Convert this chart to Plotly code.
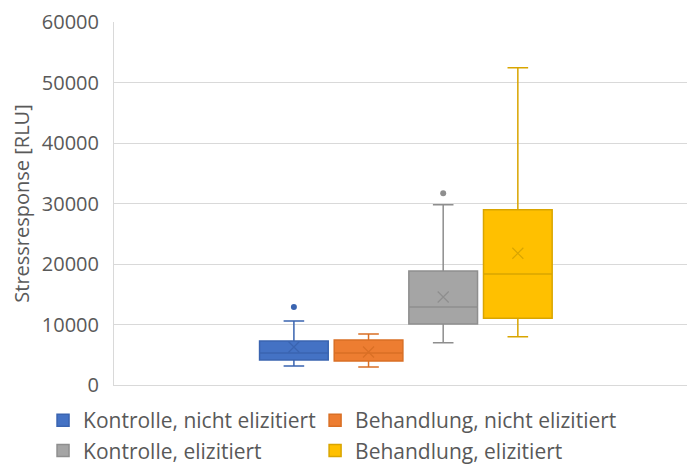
import plotly.graph_objects as go

# ---- data ----
series_names = ["Kontrolle, nicht elizitiert", "Behandlung, nicht elizitiert",
                "Kontrolle, elizitiert", "Behandlung, elizitiert"]
lower_whisker = [3140, 2980, 7000, 7980]
q1_values = [4130, 3970, 10080, 11020]
median_values = [5290, 5290, 12890, 18350]
q3_values = [7270, 7440, 18840, 28980]
upper_whisker = [10580, 8430, 29800, 52450]
mean_values = [6280, 5450, 14550, 21770]
outlier_values = [[12900], [], [31700], []]
y_ticks = [0, 10000, 20000, 30000, 40000, 50000, 60000]

# ---- styles ----
fill_colors = ["#4472C4", "#ED7D31", "#A5A5A5", "#FFC000"]
line_colors = ["#3A64B0", "#D96F25", "#8E8E8E", "#D9A500"]
legend_ids = ["legend", "legend2", "legend", "legend2"]
FONT = "Open Sans, Noto Sans, sans-serif"
TXT = "#595959"
GRID = "#D9D9D9"

fig = go.Figure()
for i, name in enumerate(series_names):
    fig.add_trace(go.Box(
        name=name,
        x=[i],
        q1=[q1_values[i]], median=[median_values[i]], q3=[q3_values[i]],
        lowerfence=[lower_whisker[i]], upperfence=[upper_whisker[i]],
        fillcolor=fill_colors[i],
        line=dict(color=line_colors[i], width=1.5),
        whiskerwidth=0.3,
        width=0.92,
        boxpoints=False,
        showlegend=True,
        legend=legend_ids[i],
    ))
for i, name in enumerate(series_names):
    # mean marker (X)
    fig.add_trace(go.Scatter(
        x=[i], y=[mean_values[i]], mode="markers",
        marker=dict(symbol="x-thin", size=11,
                    line=dict(color=line_colors[i], width=1.2)),
        showlegend=False, hoverinfo="skip",
    ))
    if outlier_values[i]:
        fig.add_trace(go.Scatter(
            x=[i] * len(outlier_values[i]), y=outlier_values[i], mode="markers",
            marker=dict(symbol="circle", size=6, color=line_colors[i]),
            showlegend=False, hoverinfo="skip",
        ))

legend_common = dict(
    orientation="h", xref="container", yref="container",
    xanchor="left", yanchor="top", y=0.142,
    entrywidth=300, entrywidthmode="pixels",
    font=dict(family=FONT, size=21, color=TXT),
    traceorder="normal", bgcolor="rgba(0,0,0,0)",
)
fig.update_layout(
    width=687, height=457,
    margin=dict(l=106, r=1, t=14, b=80),
    paper_bgcolor="white", plot_bgcolor="white",
    font=dict(family=FONT, size=20, color=TXT),
    boxmode="overlay",
    legend=dict(x=0.051, **legend_common),
    legend2=dict(x=0.447, **legend_common),
)
fig.update_xaxes(
    range=[-2.41, 5.36], showticklabels=False, showgrid=False,
    zeroline=False, showline=True, linecolor=GRID, linewidth=1,
    ticks="",
)
fig.update_yaxes(
    range=[0, 60000], tickvals=y_ticks, tickformat="d",
    showgrid=True, gridcolor=GRID, gridwidth=1,
    zeroline=False, showline=True, linecolor=GRID, linewidth=1,
    ticks="", ticklabelstandoff=10,
    tickfont=dict(family=FONT, size=20, color=TXT),
    title=dict(text="Stressresponse [RLU]", standoff=10,
               font=dict(family=FONT, size=20, color=TXT)),
)

fig.write_html("out.html")
